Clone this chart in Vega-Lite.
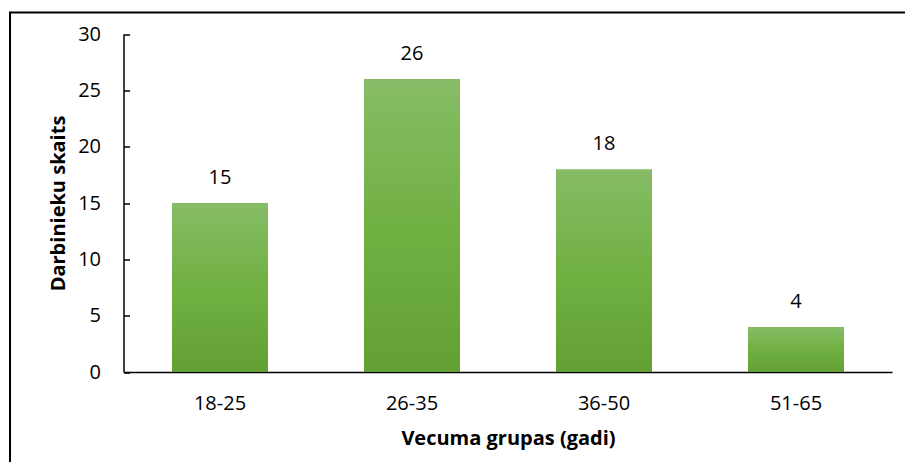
{
  "$schema": "https://vega.github.io/schema/vega-lite/v6.json",
  "width": 905,
  "height": 470,
  "autosize": {"type": "none"},
  "padding": {"left": 10, "top": 12.5, "right": 0, "bottom": 0},
  "background": "white",
  "data": {
    "values": [
      {"group": "18-25", "count": 15},
      {"group": "26-35", "count": 26},
      {"group": "36-50", "count": 18},
      {"group": "51-65", "count": 4}
    ]
  },
  "encoding": {
    "x": {
      "field": "group",
      "type": "nominal",
      "sort": null,
      "scale": {"range": [114, 882], "paddingInner": 0.5, "paddingOuter": 0.25},
      "axis": {
        "title": "Vecuma grupas (gadi)",
        "offset": -110.5,
        "labelAngle": 0,
        "ticks": false,
        "labelPadding": 21,
        "labelFontSize": 20,
        "labelColor": "#000",
        "domainColor": "#000",
        "domainWidth": 1.5,
        "titleFontSize": 20,
        "titleFontWeight": "bold",
        "titleColor": "#000",
        "titlePadding": 15
      }
    },
    "y": {
      "field": "count",
      "type": "quantitative",
      "scale": {"domain": [0, 30], "range": [359.5, 21.5], "nice": false},
      "axis": {
        "title": "Darbinieku skaits",
        "values": [0, 5, 10, 15, 20, 25, 30],
        "offset": -113.5,
        "grid": false,
        "tickSize": -6,
        "tickWidth": 1.5,
        "tickColor": "#000",
        "domainColor": "#000",
        "domainWidth": 1.5,
        "labelPadding": 29,
        "labelFontSize": 20,
        "labelColor": "#000",
        "titleFontSize": 20,
        "titleFontWeight": "bold",
        "titleColor": "#000",
        "titlePadding": 9
      }
    }
  },
  "layer": [
    {
      "mark": {
        "type": "bar",
        "color": {
          "gradient": "linear",
          "x1": 0, "y1": 0, "x2": 0, "y2": 1,
          "stops": [
            {"offset": 0, "color": "#86BC66"},
            {"offset": 0.5, "color": "#71B043"},
            {"offset": 1, "color": "#62A035"}
          ]
        }
      }
    },
    {
      "mark": {
        "type": "text",
        "dy": -19,
        "fontSize": 20,
        "color": "#000",
        "baseline": "alphabetic"
      },
      "encoding": {"text": {"field": "count", "type": "quantitative"}}
    }
  ],
  "config": {
    "font": "Open Sans",
    "view": {"stroke": "#000", "strokeWidth": 2}
  }
}
